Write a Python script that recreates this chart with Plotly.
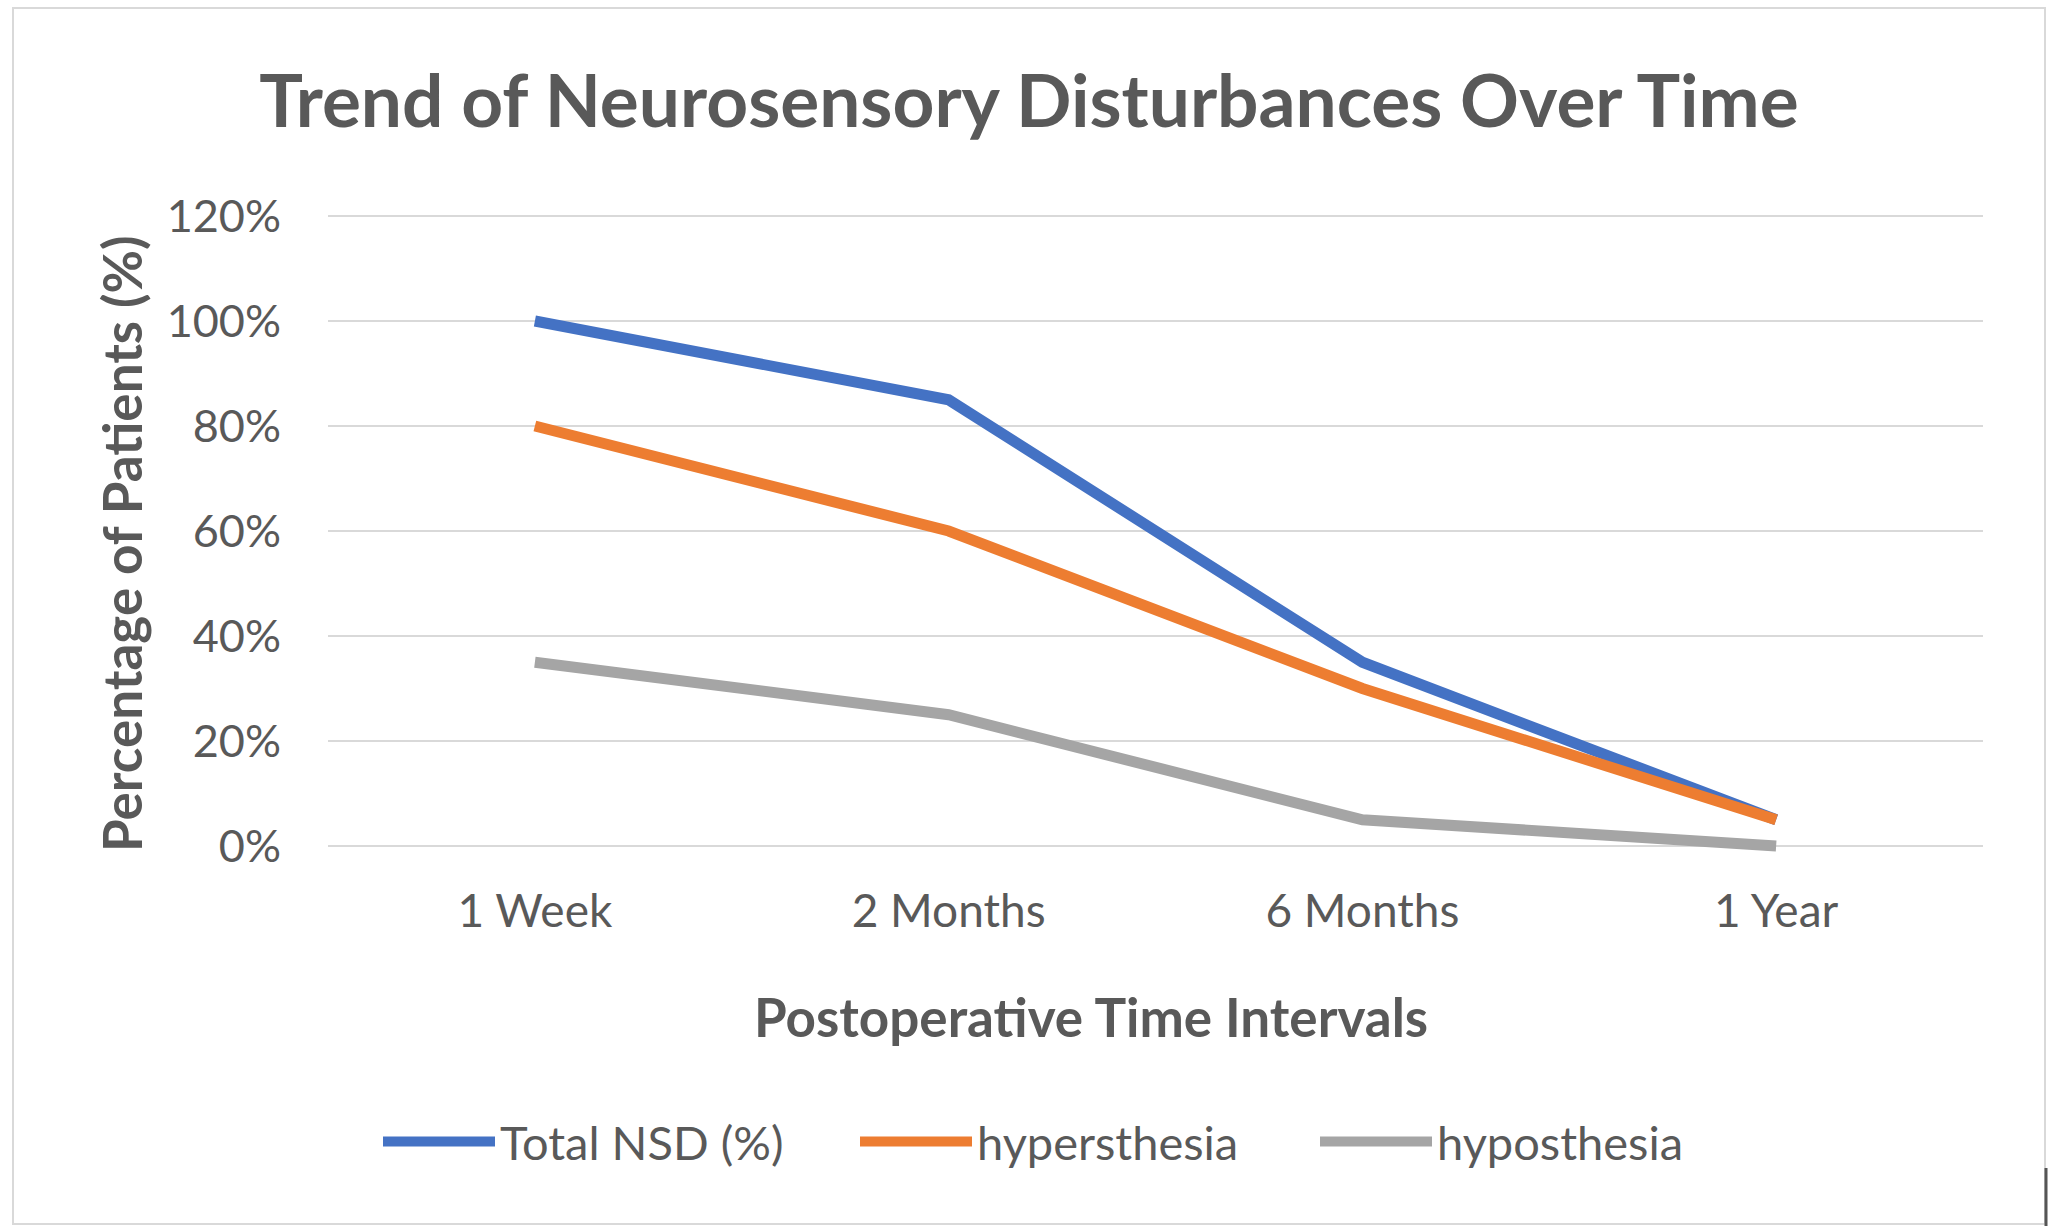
import plotly.graph_objects as go

categories = ["1 Week", "2 Months", "6 Months", "1 Year"]
total_nsd = [1.00, 0.85, 0.35, 0.05]
hypersthesia = [0.80, 0.60, 0.30, 0.05]
hyposthesia = [0.35, 0.25, 0.05, 0.00]
series_names = ["Total NSD (%)", "hypersthesia", "hyposthesia"]
y_ticks = [0, 0.2, 0.4, 0.6, 0.8, 1.0, 1.2]
y_tick_labels = ["0%", "20%", "40%", "60%", "80%", "100%", "120%"]

colors = ["#4472C4", "#ED7D31", "#A5A5A5"]
FONT = "Lato"
TXT = "#595959"

W, H = 2056, 1232
ZERO_Y, TOP_Y = 846, 216          # pixel rows of 0% and 120%
PPU = (ZERO_Y - TOP_Y) / 1.2      # pixels per unit
L, R, T, B = 328, 73, 213, 370
PW, PH = W - L - R, H - T - B
Y_BOT = -(H - B - ZERO_Y) / PPU
Y_TOP = (ZERO_Y - T) / PPU

def px(x):
    return (x - L) / PW

def py(y):
    return (H - B - y) / PH

legend_ids = ["legend", "legend2", "legend3"]
legend_x = [378, 855, 1315]

fig = go.Figure()
for name, vals, c, lid in zip(series_names, [total_nsd, hypersthesia, hyposthesia], colors, legend_ids):
    fig.add_trace(go.Scatter(x=categories, y=vals, name=name, mode="lines",
                             line=dict(color=c, width=11), showlegend=True, legend=lid))

legend_common = dict(orientation="h", xanchor="left", y=py(1142), yanchor="middle",
                     font=dict(family=FONT, size=47, color=TXT), itemwidth=112,
                     bgcolor="rgba(0,0,0,0)")

fig.update_layout(
    width=W, height=H,
    margin=dict(l=L, r=R, t=T, b=B),
    paper_bgcolor="white", plot_bgcolor="white",
    font=dict(family=FONT, color=TXT),
    title=dict(text="<b>Trend of Neurosensory Disturbances Over Time</b>",
               x=1029 / W, xanchor="center", y=1 - 101 / H, yanchor="middle",
               yref="container", xref="container",
               font=dict(family=FONT, size=73, color=TXT)),
    xaxis=dict(type="category", range=[-0.5, 3.5], showgrid=False, zeroline=False,
               showline=False, ticks="", tickfont=dict(family=FONT, size=46, color=TXT),
               ticklabelstandoff=18),
    yaxis=dict(range=[Y_BOT, Y_TOP], tickvals=y_ticks, ticktext=y_tick_labels,
               showgrid=True, gridcolor="#D9D9D9", gridwidth=2, zeroline=False,
               showline=False, ticks="", tickfont=dict(family=FONT, size=45, color=TXT),
               ticklabelstandoff=46),
    legend=dict(x=px(legend_x[0]), **legend_common),
    legend2=dict(x=px(legend_x[1]), **legend_common),
    legend3=dict(x=px(legend_x[2]), **legend_common),
    showlegend=True,
)

fig.add_annotation(text="<b>Percentage of Patients (%)</b>", xref="paper", yref="paper",
                   x=px(121), y=py(544), textangle=-90, showarrow=False,
                   xanchor="center", yanchor="middle",
                   font=dict(family=FONT, size=53, color=TXT))
fig.add_annotation(text="<b>Postoperative Time Intervals</b>", xref="paper", yref="paper",
                   x=px(1091), y=py(1016), showarrow=False,
                   xanchor="center", yanchor="middle",
                   font=dict(family=FONT, size=53, color=TXT))

fig.add_shape(type="rect", xref="paper", yref="paper",
              x0=px(13), x1=px(2045), y0=py(1224), y1=py(8),
              line=dict(color="#D9D9D9", width=2), fillcolor="rgba(0,0,0,0)", layer="below")
fig.add_shape(type="line", xref="paper", yref="paper",
              x0=px(2046), x1=px(2046), y0=py(1168), y1=py(1226),
              line=dict(color="#555555", width=3))

fig.write_html("out.html", config={"displayModeBar": False},
               post_script="document.body.style.margin='0';")
